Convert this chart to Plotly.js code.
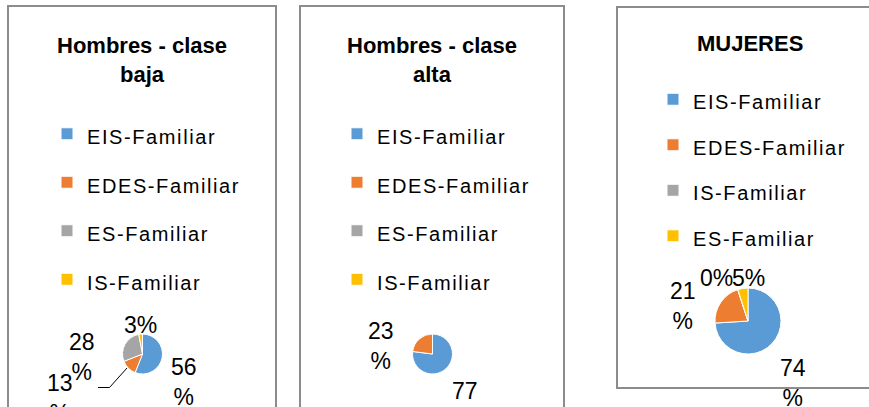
<!DOCTYPE html>
<html><head><meta charset="utf-8">
<script src="https://cdn.plot.ly/plotly-3.0.1.min.js"></script>
<style>
html,body{margin:0;padding:0;background:#fff}
#wrap{position:relative;width:869px;height:407px;overflow:hidden}
.panel{position:absolute;top:0;height:407px}
.legendtext{font-size:20px !important;letter-spacing:1.6px;transform:translateY(-3px)}
</style>
</head><body>
<div id="wrap">
  <div id="p1" class="panel" style="left:0;width:288px"></div>
  <div id="p2" class="panel" style="left:288px;width:302px"></div>
  <div id="p3" class="panel" style="left:590px;width:279px"></div>
</div>
<script>
// ---- data ----
const titles = ['Hombres - clase<br>baja', 'Hombres - clase<br>alta', 'MUJERES'];
const labelsBaja = ['EIS-Familiar', 'EDES-Familiar', 'ES-Familiar', 'IS-Familiar'];
const valuesBaja = [56, 13, 28, 3];
const labelsAlta = ['EIS-Familiar', 'EDES-Familiar', 'ES-Familiar', 'IS-Familiar'];
const valuesAlta = [77, 23, 0, 0];
const labelsMujeres = ['EIS-Familiar', 'EDES-Familiar', 'IS-Familiar', 'ES-Familiar'];
const valuesMujeres = [74, 21, 0, 5];
const sliceColors = ['#5B9BD5', '#ED7D31', '#A5A5A5', '#FFC000'];

const H = 407;
const FONT = 'Liberation Sans, Arial, sans-serif';

// layout of each panel (page pixels)
const panels = [
  {id: 'p1', left: 0, width: 288, labels: labelsBaja, values: valuesBaja, title: titles[0],
   border: [8, 6, 276, 430], titleX: 142, titleY: 31, legend: [47, 104.5, 35],
   pie: [122.5, 162.5, 334, 374],
   // data-label placement (centre of label block), wrap = "%" on its own line
   labelPos: [[184, 382, 1], [60, 398, 1], [82, 356.5, 1], [140, 325, 0]],
   leader: 'M127,368 L109.5,387.5 L98,387.5'},
  {id: 'p2', left: 288, width: 302, labels: labelsAlta, values: valuesAlta, title: titles[1],
   border: [300, 6, 564, 430], titleX: 432, titleY: 31, legend: [337, 104.5, 35],
   pie: [412.5, 452.5, 334, 374],
   labelPos: [[465.5, 406, 1], [381, 346, 1], null, null]},
  {id: 'p3', left: 590, width: 279, labels: labelsMujeres, values: valuesMujeres, title: titles[2],
   border: [617, 7, 883, 388], titleX: 750, titleY: 29, legend: [653, 71.5, 32.7],
   pie: [715, 781, 288, 354],
   labelPos: [[792.5, 383, 1], [683, 306, 1], [716, 277.5, 0], [748, 277.5, 0]]}
];

panels.forEach(p => {
  const W = p.width;
  const px = v => (v - p.left) / W;
  const py = v => 1 - v / H;

  const trace = {
    type: 'pie', labels: p.labels, values: p.values, sort: false,
    direction: 'clockwise', rotation: 0,
    marker: {colors: sliceColors, line: {color: '#ffffff', width: 1}},
    textinfo: 'none', hoverinfo: 'none',
    domain: {x: [px(p.pie[0]), px(p.pie[1])], y: [py(p.pie[3]), py(p.pie[2])]}
  };

  const annotations = [{
    text: p.title, xref: 'paper', yref: 'paper', x: px(p.titleX), y: py(p.titleY),
    xanchor: 'center', yanchor: 'top', showarrow: false,
    font: {family: FONT, size: 22, color: '#000', weight: 'bold'}
  }];
  p.values.forEach((v, i) => {
    const pos = p.labelPos[i];
    if (!pos) return;
    annotations.push({
      text: v + (pos[2] ? '<br>%' : '%'), xref: 'paper', yref: 'paper',
      x: px(pos[0]), y: py(pos[1]), xanchor: 'center', yanchor: 'middle', showarrow: false,
      font: {family: FONT, size: 23, color: '#000'}
    });
  });

  const b = p.border;
  const shapes = [{type: 'rect', xref: 'paper', yref: 'paper',
    x0: px(b[0]), x1: px(b[2]), y0: py(b[3]), y1: py(b[1]),
    line: {color: '#8c8c8c', width: 2}, fillcolor: 'rgba(0,0,0,0)', layer: 'below'}];
  if (p.leader) {
    const path = p.leader.replace(/([ML])([\d.]+),([\d.]+)/g,
      (m, c, x, y) => c + px(+x) + ',' + py(+y));
    shapes.push({type: 'path', xref: 'paper', yref: 'paper', path: path,
      line: {color: '#000', width: 1}});
  }

  const layout = {
    width: W, height: H, margin: {l: 0, r: 0, t: 0, b: 0},
    paper_bgcolor: '#fff', showlegend: true,
    legend: {x: px(p.legend[0]), y: py(p.legend[1]), xanchor: 'left', yanchor: 'top',
      font: {family: FONT, size: p.legend[2], color: '#000'},
      bgcolor: 'rgba(0,0,0,0)', itemwidth: 30},
    shapes: shapes, annotations: annotations
  };
  Plotly.newPlot(p.id, [trace], layout, {staticPlot: true, displayModeBar: false});
});
</script>
</body></html>
